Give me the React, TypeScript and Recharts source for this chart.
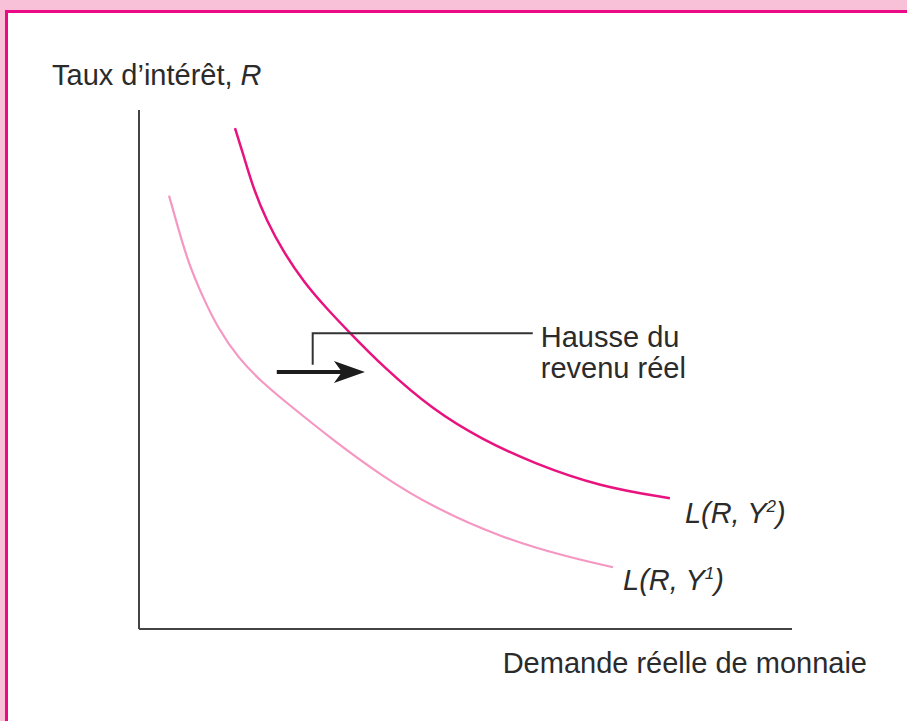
import React from 'react';
import { ComposedChart, Line, XAxis, YAxis, ReferenceDot, Label } from 'recharts';

// demande réelle de monnaie (x) vs taux d'intérêt (y), unités arbitraires 0..100
const y2Demand = [14.7, 16.0, 17.5, 19.6, 22.1, 25.2, 28.7, 32.1, 37.4, 45.0, 52.7, 60.3, 70.6, 81.3];
const y2Rate = [96.5, 91.3, 84.9, 78.5, 72.7, 66.9, 61.8, 57.3, 50.5, 42.2, 36.4, 32.0, 27.4, 25.2];
const y1Demand = [4.6, 6.0, 7.5, 9.6, 12.1, 15.2, 18.8, 22.1, 29.7, 37.4, 45.0, 55.3, 65.5, 72.6];
const y1Rate = [83.5, 77.2, 70.8, 64.4, 57.9, 52.2, 47.6, 44.1, 36.4, 29.3, 23.5, 17.7, 13.9, 11.9];

// flèche "hausse du revenu réel"
const arrowX = [21.1, 31.5];
const arrowTipX = 34.6;
const arrowY = 49.5;
// trait de renvoi vers le texte
const leaderX = [26.6, 26.6, 60.3];
const leaderY = [50.9, 57.0, 57.0];

const annotationLines = ['Hausse du', 'revenu réel'];
const xTitle = 'Demande réelle de monnaie';
const yTitle = "Taux d\u2019intérêt, ";

const toPoints = (xs: number[], ys: number[]) => xs.map((x, i) => ({ x, y: ys[i] }));

const curveY2 = toPoints(y2Demand, y2Rate);
const curveY1 = toPoints(y1Demand, y1Rate);
const arrowShaft = arrowX.map((x) => ({ x, y: arrowY }));
const leader = toPoints(leaderX, leaderY);

const FONT = '"Liberation Sans", Arial, Helvetica, sans-serif';
const TEXT = '#2b2b2b';
const MAGENTA = '#e8137f';
const LIGHT_PINK = '#f597c2';

const CurveLabel = ({ cx, cy, dx, dy, sup }: any) => (
  <text x={cx + dx} y={cy + dy} fontFamily={FONT} fontSize={29} fontStyle="italic" fill={TEXT}>
    L(R, Y
    <tspan fontSize={17} dy={-11}>{sup}</tspan>
    <tspan dy={11}>)</tspan>
  </text>
);

const App: React.FC = () => {
  return (
    <div style={{ position: 'absolute', left: 0, top: 0, width: 907, height: 721, background: '#f8c1d8', overflow: 'hidden' }}>
      <div
        style={{
          position: 'absolute',
          left: 5,
          top: 10,
          width: 907,
          height: 721,
          background: '#ffffff',
          borderLeft: '3px solid #ea0a86',
          borderTop: '3px solid #ea0a86',
        }}
      />
      <div style={{ position: 'absolute', left: 0, top: 0 }}>
        <ComposedChart
          width={907}
          height={721}
          margin={{ top: 110, right: 115, bottom: 91, left: 138 }}
        >
          <XAxis
            type="number"
            dataKey="x"
            domain={[0, 100]}
            tick={false}
            tickLine={false}
            height={1}
            axisLine={{ stroke: '#444', strokeWidth: 2 }}
          >
            <Label
              content={({ viewBox }: any) => (
                <text
                  x={viewBox.x + viewBox.width + 75}
                  y={viewBox.y + 44}
                  textAnchor="end"
                  fontFamily={FONT}
                  fontSize={29}
                  fill={TEXT}
                >
                  {xTitle}
                </text>
              )}
            />
          </XAxis>
          <YAxis
            type="number"
            dataKey="y"
            domain={[0, 100]}
            tick={false}
            tickLine={false}
            width={1}
            axisLine={{ stroke: '#444', strokeWidth: 2 }}
          >
            <Label
              content={({ viewBox }: any) => (
                <text x={viewBox.x + viewBox.width - 87} y={viewBox.y - 25} fontFamily={FONT} fontSize={29} fill={TEXT}>
                  {yTitle}
                  <tspan fontStyle="italic">R</tspan>
                </text>
              )}
            />
          </YAxis>

          <Line
            data={curveY1}
            dataKey="y"
            type="basis"
            stroke={LIGHT_PINK}
            strokeWidth={2.2}
            dot={false}
            activeDot={false}
            isAnimationActive={false}
          />
          <Line
            data={curveY2}
            dataKey="y"
            type="basis"
            stroke={MAGENTA}
            strokeWidth={2.5}
            dot={false}
            activeDot={false}
            isAnimationActive={false}
          />
          <Line
            data={leader}
            dataKey="y"
            type="linear"
            stroke="#333"
            strokeWidth={2}
            dot={false}
            activeDot={false}
            isAnimationActive={false}
          />
          <Line
            data={arrowShaft}
            dataKey="y"
            type="linear"
            stroke="#1c1c1c"
            strokeWidth={4}
            dot={false}
            activeDot={false}
            isAnimationActive={false}
          />
          <ReferenceDot
            x={arrowTipX}
            y={arrowY}
            shape={({ cx, cy }: any) => (
              <polygon
                points={`${cx},${cy} ${cx - 31},${cy - 11} ${cx - 23},${cy} ${cx - 31},${cy + 11}`}
                fill="#1c1c1c"
              />
            )}
          />
          <ReferenceDot
            x={leaderX[2]}
            y={leaderY[2]}
            shape={({ cx, cy }: any) => (
              <text x={cx + 8} y={cy + 14} fontFamily={FONT} fontSize={29} fill={TEXT}>
                {annotationLines.map((t, i) => (
                  <tspan key={t} x={cx + 8} dy={i === 0 ? 0 : 31}>
                    {t}
                  </tspan>
                ))}
              </text>
            )}
          />
          <ReferenceDot
            x={y2Demand[y2Demand.length - 1]}
            y={y2Rate[y2Rate.length - 1]}
            shape={(p: any) => <CurveLabel {...p} dx={15} dy={25} sup="2" />}
          />
          <ReferenceDot
            x={y1Demand[y1Demand.length - 1]}
            y={y1Rate[y1Rate.length - 1]}
            shape={(p: any) => <CurveLabel {...p} dx={10} dy={23} sup="1" />}
          />
        </ComposedChart>
      </div>
    </div>
  );
};

export default App;
